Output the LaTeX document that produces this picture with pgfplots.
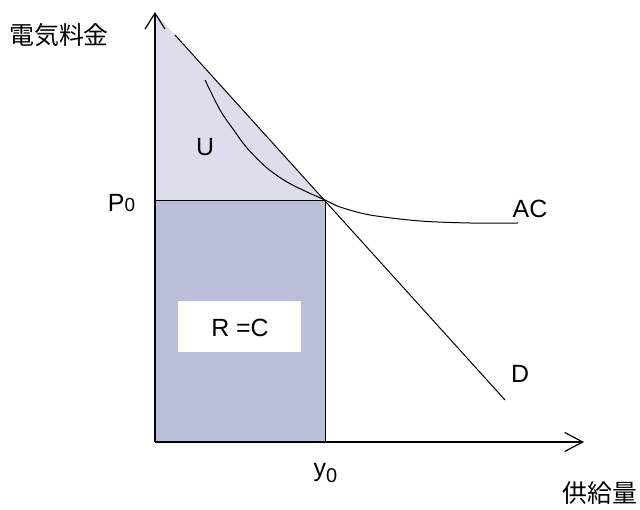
\documentclass[border=0pt]{standalone}
\usepackage{fontspec}
\setmainfont{Liberation Sans}
\newfontfamily\cjk{Noto Sans CJK JP}
\usepackage{pgfplots}
\pgfplotsset{compat=1.18}
\usetikzlibrary{arrows.meta}
\definecolor{lightU}{RGB}{221,222,236}
\definecolor{darkR}{RGB}{186,190,218}
\newcommand{\bigf}{\fontsize{25}{30}\selectfont}
\begin{document}
\begin{tikzpicture}
\begin{axis}[scale only axis, width=640bp, height=510bp,
  xmin=-155, xmax=485, ymin=-68, ymax=442, hide axis, clip=false]
\path (axis cs:-155,-68) rectangle (axis cs:485,442);
% consumer surplus U
\addplot[draw=none, fill=lightU] coordinates {(0,241) (0,429) (170,241)} -- cycle;
% revenue R = C
\addplot[draw=black, line width=1bp, fill=darkR] coordinates {(0,0) (0,241) (170,241) (170,0)} -- cycle;
% demand D
\addplot[black, line width=1bp] coordinates {(20,407) (350,42)};
% average cost AC
\addplot[black, line width=1bp, smooth] coordinates {(50,362) (65,332) (78,313) (92,294) (112,274) (132,260) (152,250) (170,242) (185,235) (215,227) (265,221) (315,219) (363,219)};
% axes
\addplot[black, line width=1.2bp, -{Straight Barb[length=18bp,width=19bp]}] coordinates {(0,0) (429,0)};
\addplot[black, line width=1.2bp, -{Straight Barb[length=16bp,width=20bp]}] coordinates {(0,0) (0,430)};
% labels
\node[fill=white, inner sep=0pt, minimum width=123bp, minimum height=51bp] at (axis cs:84.5,115.5) {};
\node[anchor=base, inner sep=0pt, font=\bigf] at (axis cs:85,105) {R =C};
\node[anchor=base, inner sep=0pt, font=\bigf] at (axis cs:50,286) {U};
\node[anchor=base, inner sep=0pt, font=\bigf] at (axis cs:375,224) {AC};
\node[anchor=base, inner sep=0pt, font=\bigf] at (axis cs:365,59) {D};
\node[anchor=base, inner sep=0pt, font=\bigf] at (axis cs:-33.5,230) {P{\fontsize{19}{20}\selectfont 0}};
\node[anchor=base, inner sep=0pt, font=\bigf] at (axis cs:170.5,-35) {y\raisebox{-6bp}{\fontsize{20}{20}\selectfont 0}};
\node[inner sep=0pt, font=\bigf] at (axis cs:-96,407) {\cjk 電気料金};
\node[inner sep=0pt, font=\bigf] at (axis cs:445,-51) {\cjk 供給量};
\end{axis}
\end{tikzpicture}
\end{document}
